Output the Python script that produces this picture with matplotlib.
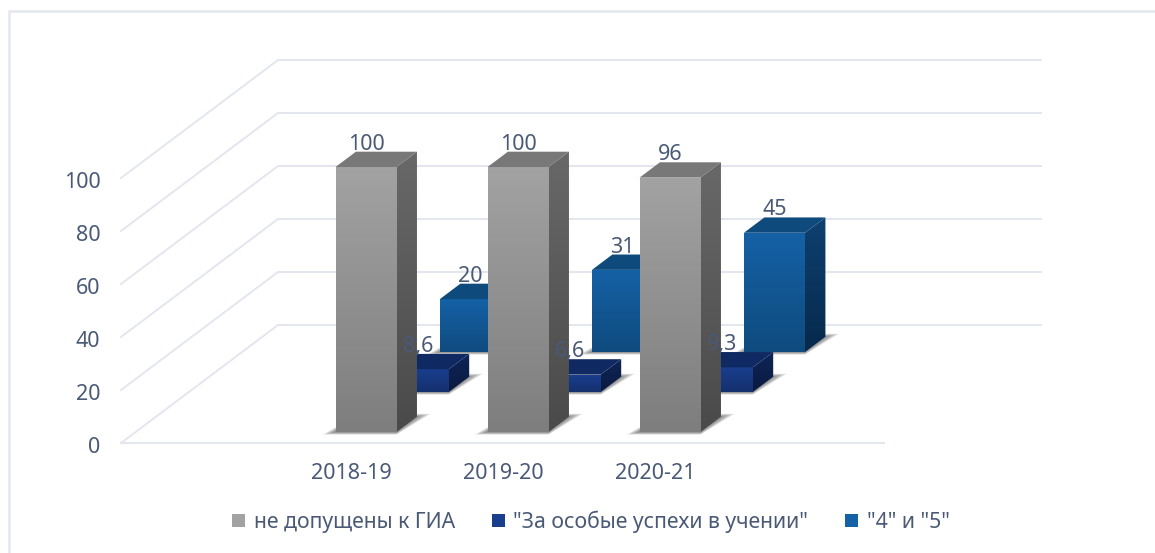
#!/usr/bin/env python3
"""Pseudo-3D column chart: three rows of bars in an oblique projection."""

import numpy as np
import matplotlib
matplotlib.use('Agg')
import matplotlib.pyplot as plt
from matplotlib.patches import Polygon, Patch
from matplotlib.colors import LinearSegmentedColormap

plt.rcParams['font.family'] = ['Noto Sans', 'DejaVu Sans']
# clip paths get lost when neighbouring images are composited
plt.rcParams['image.composite_image'] = False

years = ['2018-19', '2019-20', '2020-21']
tick_values = [0, 20, 40, 60, 80, 100]
not_admitted = [100, 100, 96]
special_merit = [8.6, 6.6, 9.3]
fours_fives = [20, 31, 45]
series_names = ['не допущены к ГИА', '"За особые успехи в учении"', '"4" и "5"']

TEXT = '#4A5A76'
GRID = '#E3E6EF'

# projection: pixels per unit
PX_X = 152.6
PX_Y = 2.65
FLOOR_DX = 157 / PX_X    # x units for one full depth of the floor
FLOOR_DY = 118 / PX_Y    # value units for one full depth of the floor
N_SLOTS = 5
SLOT_START = 1.51
SLOT_STEP = 152 / PX_X
BAR_W = 0.4
BAR_D = 0.13

# (front top, front bottom), (side top, side bottom), top face
STYLES = [
    (('#A2A2A2', '#7E7E7E'), ('#686868', '#4A4A4A'), '#787878'),
    (('#1A3E8E', '#14306E'), ('#0F2558', '#0A1A40'), '#0F2A62'),
    (('#1561A6', '#0F4B7E'), ('#0E4070', '#07294C'), '#0E4A7C'),
]


def project(x, v, d):
    return x + d * FLOOR_DX, v + d * FLOOR_DY


def gradient_poly(ax, pts, colors, zorder):
    # vertical gradient clipped to a polygon
    pts = np.array(pts)
    cmap = LinearSegmentedColormap.from_list('g', colors)
    img = np.linspace(0, 1, 64).reshape(-1, 1)
    extent = [pts[:, 0].min(), pts[:, 0].max(), pts[:, 1].min(), pts[:, 1].max()]
    im = ax.imshow(img, cmap=cmap, extent=extent, origin='upper', aspect='auto', zorder=zorder, interpolation='bilinear')
    clip = Polygon(pts, transform=ax.transData, fc='none', ec='none')
    ax.add_patch(clip)
    im.set_clip_path(clip)


def draw_shadow(ax, x, d, zorder):
    # soft shadow made of stacked transparent footprints
    for grow in np.linspace(1.0, 0.1, 8):
        left = 0.085 * grow
        right = 0.065 * grow
        gd = 0.025 * grow
        foot = [project(x - BAR_W / 2 - left, -1.0 * grow, d),
                project(x + BAR_W / 2, -1.0 * grow, d),
                project(x + BAR_W / 2 + right, 0, d + BAR_D + gd),
                project(x - BAR_W / 2, 0, d + BAR_D + gd)]
        ax.add_patch(Polygon(foot, fc='#303030', ec='none', alpha=0.09, zorder=zorder))


def draw_bar(ax, x, value, d, style, zorder):
    front, side, top = style
    x0, x1 = x - BAR_W / 2, x + BAR_W / 2
    d1 = d + BAR_D
    gradient_poly(ax, [project(x0, 0, d), project(x1, 0, d), project(x1, value, d), project(x0, value, d)], front, zorder)
    gradient_poly(ax, [project(x1, 0, d), project(x1, 0, d1), project(x1, value, d1), project(x1, value, d)], side, zorder)
    ax.add_patch(Polygon([project(x0, value, d), project(x1, value, d), project(x1, value, d1), project(x0, value, d1)],
                         fc=top, ec='none', zorder=zorder))


def main():
    fig = plt.figure(figsize=(11.55, 5.53), dpi=100)
    ax = fig.add_axes([0, 0, 1, 1])
    xlim = (-121 / PX_X, (1155 - 121) / PX_X)
    ylim = (-(553 - 443) / PX_Y, 443 / PX_Y)
    ax.axis('off')

    # chart frame: only the top and left edges are in the crop
    fig.add_artist(plt.Line2D([8.5 / 1155, 8.5 / 1155, 1], [0, 1 - 11 / 553, 1 - 11 / 553],
                              transform=fig.transFigure, color=GRID, lw=1.8, solid_joinstyle='miter'))

    # walls and floor grid
    for v in tick_values:
        bx, by = project(0, v, 1)
        ex, ey = project(N_SLOTS, v, 1)
        ax.plot([0, bx, ex], [v, by, ey], color=GRID, lw=1.4, zorder=1, solid_joinstyle='miter')
        ax.text(-0.135, v - 1.6, str(v), ha='right', va='center', color=TEXT, fontsize=15.5, zorder=30)
    ax.plot([0, N_SLOTS], [0, 0], color=GRID, lw=1.4, zorder=1)

    # rows back to front
    rows = [(2, fours_fives), (1, special_merit), (0, not_admitted)]
    for row, values in rows:
        d = 0.093 + row * 0.339
        for i, value in enumerate(values):
            x = SLOT_START + i * SLOT_STEP - 0.0065 * row
            draw_shadow(ax, x, d, 2 + (2 - row) * 2)
            draw_bar(ax, x, value, d, STYLES[row], 3 + (2 - row) * 2)
            lx, _ = project(x, value, d)
            _, ly = project(x, value, d + BAR_D)
            ax.text(lx, ly + 0.75, f'{value:g}'.replace('.', ','), ha='center', va='baseline',
                    color=TEXT, fontsize=15.5, zorder=30)

    for i, year in enumerate(years):
        ax.text(SLOT_START + i * SLOT_STEP, -11.6, year, ha='center', va='center', color=TEXT, fontsize=15.5)

    handles = [Patch(fc=STYLES[k][0][0], ec='none') for k in range(3)]
    ax.legend(handles, series_names, loc='center', bbox_to_anchor=(591 / 1155, 1 - 522 / 553), ncol=3,
              frameon=False, fontsize=15.3, labelcolor=TEXT, handlelength=0.6, handleheight=0.6,
              handletextpad=0.4, columnspacing=1.75)

    ax.set_xlim(xlim)
    ax.set_ylim(ylim)
    fig.savefig('out.png', dpi=100)


if __name__ == '__main__':
    main()
